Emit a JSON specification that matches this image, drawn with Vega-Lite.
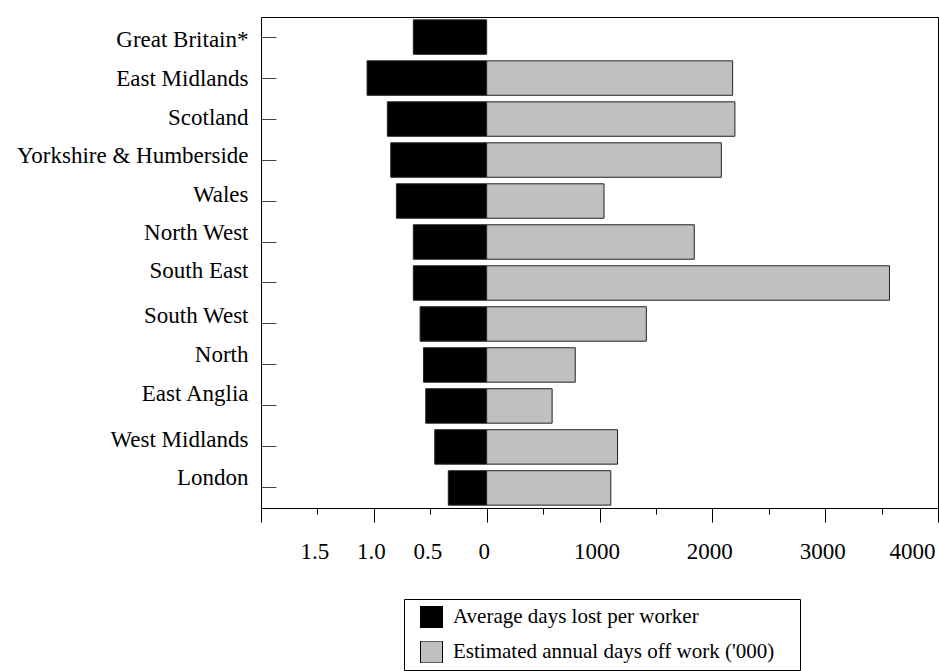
{
  "$schema": "https://vega.github.io/schema/vega-lite/v6.json",
  "width": 677,
  "height": 491,
  "autosize": {"type": "none"},
  "padding": {"left": 261, "top": 17, "right": 1, "bottom": 163},
  "background": "white",
  "config": {
    "font": "Liberation Serif",
    "view": {"stroke": "#000000", "strokeWidth": 1},
    "axis": {"labelFont": "Liberation Serif", "labelColor": "#000000", "tickColor": "#000000", "tickWidth": 1, "grid": false, "title": null},
    "legend": {"labelFont": "Liberation Serif", "labelColor": "#000000"},
    "style": {"guide-label": {"font": "Liberation Serif"}}
  },
  "data": {
    "values": [
      {"region": "Great Britain*", "series": "Average days lost per worker", "value": 0.65},
      {"region": "East Midlands", "series": "Average days lost per worker", "value": 1.06},
      {"region": "Scotland", "series": "Average days lost per worker", "value": 0.88},
      {"region": "Yorkshire & Humberside", "series": "Average days lost per worker", "value": 0.85},
      {"region": "Wales", "series": "Average days lost per worker", "value": 0.80},
      {"region": "North West", "series": "Average days lost per worker", "value": 0.65},
      {"region": "South East", "series": "Average days lost per worker", "value": 0.65},
      {"region": "South West", "series": "Average days lost per worker", "value": 0.59},
      {"region": "North", "series": "Average days lost per worker", "value": 0.56},
      {"region": "East Anglia", "series": "Average days lost per worker", "value": 0.54},
      {"region": "West Midlands", "series": "Average days lost per worker", "value": 0.46},
      {"region": "London", "series": "Average days lost per worker", "value": 0.34},
      {"region": "East Midlands", "series": "Estimated annual days  off work ('000)", "value": 2180},
      {"region": "Scotland", "series": "Estimated annual days  off work ('000)", "value": 2200},
      {"region": "Yorkshire & Humberside", "series": "Estimated annual days  off work ('000)", "value": 2080},
      {"region": "Wales", "series": "Estimated annual days  off work ('000)", "value": 1040},
      {"region": "North West", "series": "Estimated annual days  off work ('000)", "value": 1840},
      {"region": "South East", "series": "Estimated annual days  off work ('000)", "value": 3570},
      {"region": "South West", "series": "Estimated annual days  off work ('000)", "value": 1415},
      {"region": "North", "series": "Estimated annual days  off work ('000)", "value": 785},
      {"region": "East Anglia", "series": "Estimated annual days  off work ('000)", "value": 580},
      {"region": "West Midlands", "series": "Estimated annual days  off work ('000)", "value": 1160},
      {"region": "London", "series": "Estimated annual days  off work ('000)", "value": 1100}
    ]
  },
  "encoding": {
    "y": {
      "field": "region",
      "type": "nominal",
      "sort": ["Great Britain*", "East Midlands", "Scotland", "Yorkshire & Humberside", "Wales", "North West", "South East", "South West", "North", "East Anglia", "West Midlands", "London"],
      "scale": {"paddingInner": 0.16, "paddingOuter": 0.07},
      "axis": {
        "title": null,
        "domain": false,
        "tickSize": -15,
        "tickColor": "#444444",
        "labelPadding": 28,
        "labelFont": "Liberation Serif",
        "labelFontSize": 23,
        "labelLimit": 0,
        "labelOffset": {
          "condition": [
            {"test": "datum.value === 'Great Britain*'", "value": 3},
            {"test": "datum.value === 'East Midlands'", "value": 1},
            {"test": "datum.value === 'Scotland'", "value": -1},
            {"test": "datum.value === 'Yorkshire & Humberside'", "value": -4},
            {"test": "datum.value === 'Wales'", "value": -6},
            {"test": "datum.value === 'South East'", "value": -12},
            {"test": "datum.value === 'East Anglia'", "value": -12},
            {"test": "datum.value === 'South West'", "value": -8},
            {"test": "datum.value === 'West Midlands'", "value": -7}
          ],
          "value": -9.5
        }
      }
    },
    "color": {
      "field": "series",
      "type": "nominal",
      "scale": {"domain": ["Average days lost per worker", "Estimated annual days  off work ('000)"], "range": ["#000000", "#c0c0c0"]},
      "legend": {
        "title": "\u00a0",
        "titleOrient": "right",
        "titlePadding": 14,
        "titleFontSize": 21,
        "orient": "none",
        "legendX": 143,
        "legendY": 582,
        "direction": "vertical",
        "strokeColor": "#000000",
        "fillColor": "#ffffff",
        "padding": 7,
        "symbolType": "square",
        "symbolSize": 484,
        "symbolStrokeColor": "#000000",
        "symbolStrokeWidth": 1,
        "symbolOffset": 9,
        "labelFont": "Liberation Serif",
        "labelFontSize": 21,
        "labelOffset": 10,
        "clipHeight": 22,
        "rowPadding": 13,
        "labelLimit": 0
      }
    }
  },
  "layer": [
    {
      "transform": [{"filter": "datum.series === 'Average days lost per worker'"}],
      "mark": {"type": "bar", "stroke": "#222222", "strokeWidth": 1},
      "encoding": {
        "x": {
          "field": "value",
          "type": "quantitative",
          "stack": null,
          "scale": {"domain": [-4, 2], "reverse": true, "nice": false, "zero": false},
          "axis": {"orient": "bottom", "values": [2, 1, 0, -1, -2, -3, -4], "tickSize": 14, "labels": false, "domain": false, "title": null}
        }
      }
    },
    {
      "transform": [{"filter": "datum.series !== 'Average days lost per worker'"}],
      "mark": {"type": "bar", "stroke": "#222222", "strokeWidth": 1},
      "encoding": {
        "x": {
          "field": "value",
          "type": "quantitative",
          "stack": null,
          "scale": {"domain": [-2000, 4000], "nice": false, "zero": false},
          "axis": {
            "orient": "bottom",
            "values": [-2000, -1500, -1000, -500, 0, 500, 1000, 1500, 2000, 2500, 3000, 3500, 4000],
            "tickSize": 6,
            "domain": false,
            "labelFont": "Liberation Serif",
            "labelFontSize": 23,
            "labelPadding": 26,
            "labelFlush": true,
            "labelOffset": -3,
            "labelOverlap": false,
            "labelExpr": "datum.value == -2000 ? '' : datum.value < 0 ? format(-datum.value / 1000, '.1f') : datum.value == 0 ? '0' : datum.value % 1000 == 0 ? format(datum.value, 'd') : ''",
            "title": null
          }
        }
      }
    }
  ],
  "resolve": {"scale": {"x": "independent"}, "axis": {"x": "independent"}}
}
